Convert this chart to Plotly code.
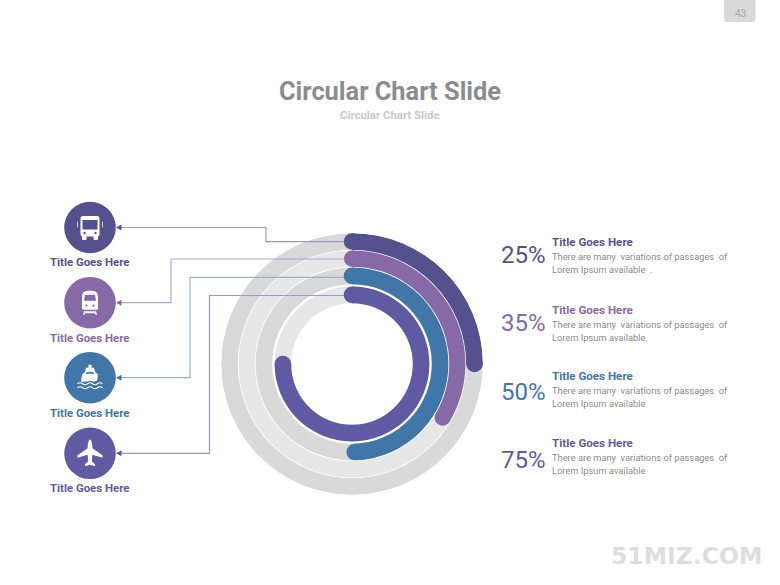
import plotly.graph_objects as go

# ---- data ----
categories = ["Title Goes Here"] * 4
shares_label = ["25%", "35%", "50%", "75%"]
arc_percent = [25, 33.5, 49.5, 75]
ring_inner = [114.2, 97.3, 79.8, 60.8]
ring_outer = [130.8, 113.4, 96.4, 77.4]
series_colors = ["#55518F", "#8769A8", "#4176A9", "#5F5AA2"]
track_colors = ["#D9D9D9", "#E7E7E7", "#D9D9D9", "#E7E7E7"]
line_colors = ["#9C99C4", "#B7A3CF", "#93B3D2", "#9B98CA"]
line_1 = ["There are many\u00a0 variations of passages\u00a0 of"] * 4
line_2 = ["Lorem Ipsum available\u00a0 .", "Lorem Ipsum available.", "Lorem Ipsum available", "Lorem Ipsum available"]
page_title = "Circular Chart Slide"
page_number = "43"
watermark = "51MIZ.COM"

W, H = 780, 585
CX, CY, R = 352, 364, 131
FONT = "Roboto"

# layout positions in picture pixels
icon_y = [227.5, 302.7, 377.7, 453.3]
label_y = [262, 337.5, 413, 488]
title_y = [242, 309.5, 376, 443]
body1_y = [256.5, 324, 390.5, 457]
body2_y = [269.5, 337, 403.5, 470]
pct_y = [255, 323, 392, 460]
elbow_x = [266, 171, 190, 209.5]
arc_y = [241.7, 259, 277.3, 295.5]

fig = go.Figure()
fig.add_trace(go.Scatter(x=[0], y=[0], mode="markers", marker=dict(opacity=0), hoverinfo="skip", showlegend=False))

for i, o, c in zip(ring_inner, ring_outer, track_colors):
    fig.add_trace(go.Barpolar(r=[o - i], base=[i], theta=[180], width=[360], marker=dict(color=c, line=dict(width=0)), hoverinfo="skip", showlegend=False))

for p, i, o, c in zip(arc_percent, ring_inner, ring_outer, series_colors):
    deg = p * 3.6
    fig.add_trace(go.Barpolar(r=[o - i], base=[i], theta=[deg / 2], width=[deg], marker=dict(color=c, line=dict(width=0)), hoverinfo="skip", showlegend=False))
    mid = (i + o) / 2
    fig.add_trace(go.Scatterpolar(r=[mid, mid], theta=[0, deg], mode="markers", marker=dict(color=c, size=o - i, line=dict(width=0)), hoverinfo="skip", showlegend=False))

shapes, ann = [], []

def text(x, y, s, size, color, anchor="left", weight=400, family=FONT):
    ann.append(dict(x=x, y=y, xref="x", yref="y", text=s, showarrow=False, xanchor=anchor, yanchor="middle",
                    align=anchor, font=dict(family=family, size=size, color=color, weight=weight)))

def path(d, color):
    shapes.append(dict(type="path", path=d, xref="x", yref="y", fillcolor=color, line=dict(width=0), layer="above"))

def rrect(x0, y0, x1, y1, r):
    return (f"M{x0+r},{y0} L{x1-r},{y0} Q{x1},{y0} {x1},{y0+r} L{x1},{y1-r} Q{x1},{y1} {x1-r},{y1} "
            f"L{x0+r},{y1} Q{x0},{y1} {x0},{y1-r} L{x0},{y0+r} Q{x0},{y0} {x0+r},{y0} Z")

def circle(cx, cy, r, color):
    shapes.append(dict(type="circle", xref="x", yref="y", x0=cx-r, x1=cx+r, y0=cy-r, y1=cy+r,
                       fillcolor=color, line=dict(width=0), layer="above"))

def bus(cx, cy, bg):
    path(rrect(cx-9.5, cy-11.5, cx+9.5, cy+9, 2.5), "white")
    path(rrect(cx-8, cy+8, cx-3.5, cy+12.5, 1), "white")
    path(rrect(cx+3.5, cy+8, cx+8, cy+12.5, 1), "white")
    path(rrect(cx-7.5, cy-7.5, cx+7.5, cy+2, 0.5), bg)
    circle(cx-5.5, cy+5.5, 1.2, bg)
    circle(cx+5.5, cy+5.5, 1.2, bg)
    path(rrect(cx-13, cy-6, cx-12.3, cy+0, 0.3), "white")
    path(rrect(cx+12.3, cy-6, cx+13, cy+0, 0.3), "white")

def train(cx, cy, bg):
    path(f"M{cx-8},{cy+6} L{cx-8},{cy-6} Q{cx-8},{cy-12} {cx-2},{cy-12} L{cx+2},{cy-12} Q{cx+8},{cy-12} {cx+8},{cy-6} L{cx+8},{cy+6} Q{cx+8},{cy+7} {cx+6},{cy+7} L{cx-6},{cy+7} Q{cx-8},{cy+7} {cx-8},{cy+6} Z", "white")
    path(f"M{cx-6},{cy-2} L{cx-5},{cy-8} L{cx+5},{cy-8} L{cx+6},{cy-2} Z", bg)
    circle(cx-3.5, cy+3, 1.1, bg)
    circle(cx+3.5, cy+3, 1.1, bg)
    path(f"M{cx-6},{cy+8.5} L{cx+6},{cy+8.5} L{cx+7},{cy+12} L{cx+5.5},{cy+12} L{cx+5},{cy+10.5} L{cx-5},{cy+10.5} L{cx-5.5},{cy+12} L{cx-7},{cy+12} Z", "white")

def ship(cx, cy, bg):
    path(rrect(cx-1.5, cy-13, cx+1.5, cy-9, 0.5), "white")
    path(f"M{cx-5},{cy-6} L{cx-4},{cy-10} L{cx+4},{cy-10} L{cx+5},{cy-6} L{cx+8},{cy-3} L{cx+7},{cy+3} Q{cx+4},{cy+4.5} {cx},{cy+3} Q{cx-4},{cy+4.5} {cx-9},{cy+4} L{cx-8},{cy-3} Z", "white")
    path(f"M{cx-4},{cy-5} Q{cx},{cy-7} {cx+4},{cy-5} L{cx+4},{cy-3.5} Q{cx},{cy-5} {cx-4},{cy-3.5} Z", bg)
    for dy in (6.0, 10.0):
        d = f"M{cx-12.5},{cy+dy}"
        for k in range(5):
            x1 = cx - 12.5 + 5 * k
            bend = -2 if k % 2 == 0 else 2
            d += f" Q{x1+2.5},{cy+dy+bend} {x1+5},{cy+dy}"
        shapes.append(dict(type="path", path=d, xref="x", yref="y", fillcolor="rgba(0,0,0,0)", line=dict(color="white", width=1.1), layer="above"))

def plane(cx, cy, bg):
    path(f"M{cx},{cy-14} Q{cx+2.4},{cy-12} {cx+2.4},{cy-5} L{cx+12.5},{cy+2} L{cx+12.5},{cy+4.5} L{cx+2.4},{cy+1.5} L{cx+1.8},{cy+8} L{cx+5},{cy+11} L{cx+5},{cy+13} L{cx},{cy+11.5} "
         f"L{cx-5},{cy+13} L{cx-5},{cy+11} L{cx-1.8},{cy+8} L{cx-2.4},{cy+1.5} L{cx-12.5},{cy+4.5} L{cx-12.5},{cy+2} L{cx-2.4},{cy-5} Q{cx-2.4},{cy-12} {cx},{cy-14} Z", "white")

icons = [bus, train, ship, plane]

for k in range(4):
    col = series_colors[k]
    y = icon_y[k]
    # connector
    d = f"M121,{y} L{elbow_x[k]},{y} L{elbow_x[k]},{arc_y[k]} L344,{arc_y[k]}"
    shapes.append(dict(type="path", path=d, xref="x", yref="y", fillcolor="rgba(0,0,0,0)", line=dict(color=line_colors[k], width=1.2), layer="above"))
    path(f"M116,{y} L121.5,{y-3} L121.5,{y+3} Z", col)
    circle(90, y, 25.8, col)
    icons[k](90, y, col)
    text(89.5, label_y[k], categories[k], 11.4, col, "center", 700)
    text(523, pct_y[k], shares_label[k], 24, col, "center", 400)
    text(550, title_y[k], categories[k], 11.6, col, "left", 700)
    text(550, body1_y[k], line_1[k], 9.3, "#8A8A8A", "left", 400)
    text(550, body2_y[k], line_2[k], 9.3, "#8A8A8A", "left", 400)

text(390, 91, page_title, 25.4, "#8C8C8C", "center", 700)
text(390, 115, page_title, 11.4, "#C9C9C9", "center", 700)
path(rrect(724, -6, 755.5, 22, 3), "#D9D9D9")
text(740, 13, page_number, 10, "#A6A6A6", "center", 400)
text(686.5, 556, watermark, 23.5, "#DEDEDE", "center", 700, "DejaVu Sans")

fig.update_layout(
    width=W, height=H, autosize=False, margin=dict(l=0, r=0, t=0, b=0),
    paper_bgcolor="white", plot_bgcolor="rgba(0,0,0,0)", showlegend=False,
    xaxis=dict(range=[0, W], domain=[0, 1], visible=False, fixedrange=True),
    yaxis=dict(range=[H, 0], domain=[0, 1], visible=False, fixedrange=True),
    polar=dict(
        domain=dict(x=[(CX - R) / W, (CX + R) / W], y=[(H - CY - R) / H, (H - CY + R) / H]),
        bgcolor="rgba(0,0,0,0)", barmode="overlay",
        radialaxis=dict(visible=False, range=[0, R]),
        angularaxis=dict(visible=False, rotation=90, direction="clockwise"),
    ),
    shapes=shapes, annotations=ann,
)
fig.write_html("out.html", config=dict(displayModeBar=False),
               post_script="document.body.style.margin='0';document.body.style.overflow='hidden';")
